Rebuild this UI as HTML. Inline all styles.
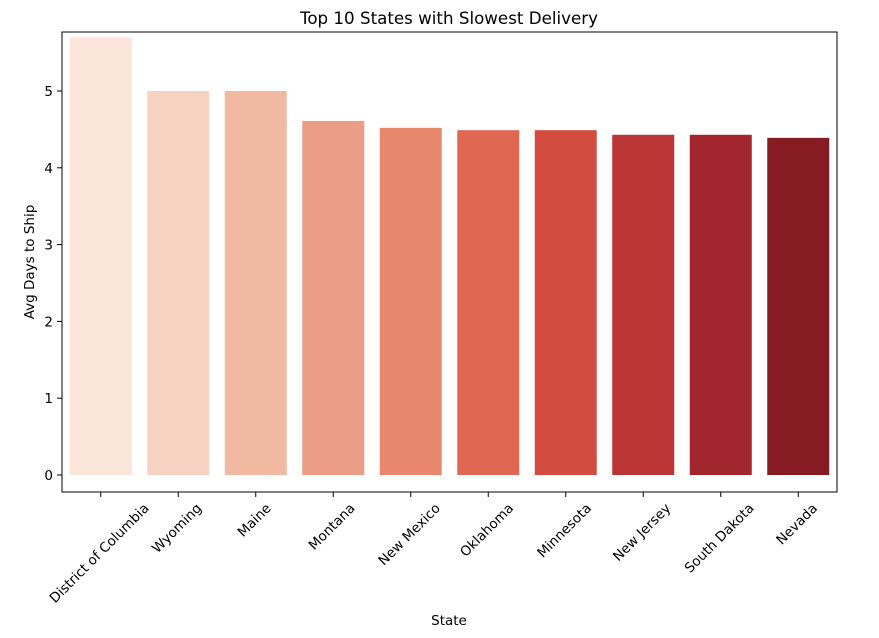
<!DOCTYPE html>
<html><head><meta charset="utf-8"><style>
body{margin:0;background:#fff;}
svg{display:block;font-family:"DejaVu Sans","Liberation Sans",sans-serif;}
</style></head><body>
<svg id="chart" width="879" height="638"></svg>
<script>
const categories=["District of Columbia","Wyoming","Maine","Montana","New Mexico","Oklahoma","Minnesota","New Jersey","South Dakota","Nevada"];
const values=[5.70,5.0,5.0,4.61,4.52,4.49,4.49,4.43,4.43,4.39];
const colors=["#fbe4da","#f6d2c2","#f1b9a2","#eb9e85","#e8876d","#e06853","#d44c40","#bb3436","#a1262d","#861c23"];
const yTicks=[0,1,2,3,4,5];
const NS="http://www.w3.org/2000/svg";
const svg=document.getElementById('chart');
const L=62,R=837,T=32,B=492;
const y0=475,pxPerUnit=76.8;
const FS=13.5;
function yScale(v){return y0-v*pxPerUnit;}
const step=(R-L)/categories.length;
function xCenter(i){return L+step*(i+0.5);}
function mk(tag,attrs,text){const e=document.createElementNS(NS,tag);for(const k in attrs)e.setAttribute(k,attrs[k]);if(text!==undefined)e.textContent=text;svg.appendChild(e);return e;}
const t=mk('text',{x:449,y:24,'text-anchor':'middle','font-size':16.7,fill:'#000'},'Top 10 States with Slowest Delivery');


categories.forEach((c,i)=>{
  const w=step*0.8,h=values[i]*pxPerUnit;
  const r=mk('rect',{x:xCenter(i)-w/2,y:yScale(values[i]),width:w,height:h,fill:colors[i]});
  
  
  mk('line',{x1:xCenter(i),x2:xCenter(i),y1:B,y2:B+5,stroke:'#000','stroke-width':1});
  const tl=mk('text',{x:0,y:0,'text-anchor':'middle','font-size':FS,fill:'#000'},c);
  const len=tl.getComputedTextLength();
  const cx=xCenter(i)-1.5,cy=B+9+(len+FS)*0.7071/2;
  tl.setAttribute('x',cx);
  tl.setAttribute('y',cy+4.5);
  tl.setAttribute('transform',`rotate(-45 ${cx} ${cy})`);
  
  
});
yTicks.forEach(v=>{
  const y=yScale(v);
  mk('line',{x1:L-5,x2:L,y1:y,y2:y,stroke:'#000','stroke-width':1});
  const tl=mk('text',{x:L-9,y:y+5,'text-anchor':'end','font-size':FS,fill:'#000'},String(v));
  
  
});
const frame=mk('rect',{x:L,y:T,width:R-L,height:B-T,fill:'none',stroke:'#000','stroke-width':1});


const xt=mk('text',{x:449,y:625,'text-anchor':'middle','font-size':FS,fill:'#000'},'State');


const yt=mk('text',{x:34,y:262,'text-anchor':'middle','font-size':FS,fill:'#000',transform:'rotate(-90 34 262)'},'Avg Days to Ship');


</script>
</body></html>
